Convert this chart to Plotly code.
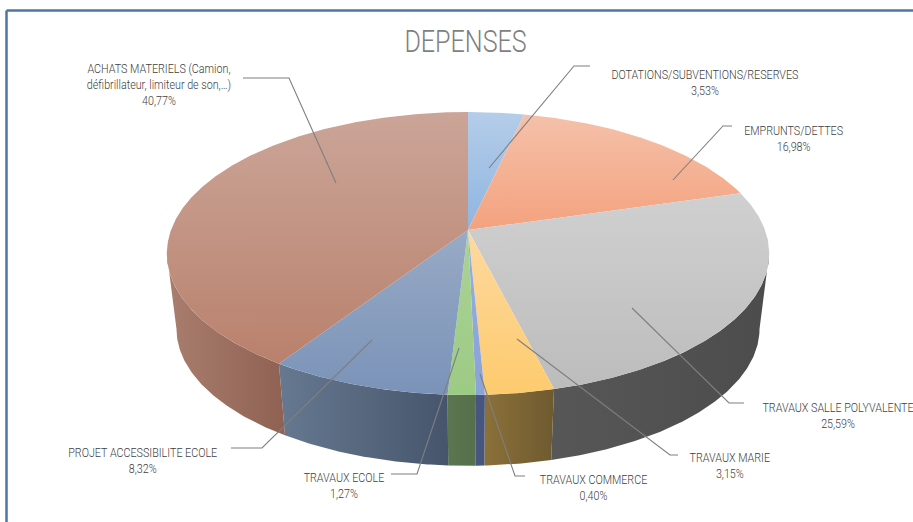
import numpy as np
import plotly.graph_objects as go

categories = ["DOTATIONS/SUBVENTIONS/RESERVES", "EMPRUNTS/DETTES", "TRAVAUX SALLE POLYVALENTE",
              "TRAVAUX MARIE", "TRAVAUX COMMERCE", "TRAVAUX ECOLE", "PROJET ACCESSIBILITE ECOLE",
              "ACHATS MATERIELS (Camion,<br>défibrillateur, limiteur de son,…)"]
values = [3.53, 16.98, 25.59, 3.15, 0.40, 1.27, 8.32, 40.77]
top_light = ["#b4cde9", "#f4c1aa", "#d0d0d0", "#fdd9a0", "#96addf", "#abd296", "#98aac5", "#cba598"]
top_dark = ["#8fb5e0", "#f4a27e", "#bcbcbc", "#fdcb6e", "#8aa3d8", "#9ccb84", "#7a93b8", "#b9816d"]
side_left = ["#7f9cc0", "#c98d6d", "#575757", "#8b7139", "#46567f", "#5a7650", "#667990", "#aa7e6f"]
side_right = ["#7f9cc0", "#c98d6d", "#4c4c4c", "#6f5a30", "#46567f", "#566f4c", "#46556c", "#8e6152"]

title = "DEPENSES"
label_xy = [(705, 82), (793, 138), (838, 415), (730, 465), (593, 487), (344, 485), (143, 460), (159, 85)]
leaders = [[(590, 66), (574, 66), (489, 168)], [(732, 126), (723, 126), (673, 180)],
           [(744, 403), (729, 403), (632, 308)], [(678, 455), (670, 455), (517, 339)],
           [(525, 476), (515, 476), (480, 374)], [(391, 474), (417, 474), (459, 348)],
           [(231, 448), (262, 448), (372, 340)], [(243, 78), (289, 78), (336, 183)]]

# pie projection (perspective view of a tilted cylinder, in page pixels)
CX, CY, RX, RY, P = 468, 230, 297, 137.6, 0.166
BOTTOM_SCALE, BOTTOM_DY = 0.968, 76


def rim(theta, bottom=False):
    u, v = np.sin(theta), -np.cos(theta)
    d = 1 - P * v
    s, dy = (BOTTOM_SCALE, BOTTOM_DY) if bottom else (1.0, 0.0)
    return CX + s * RX * u / d, CY + dy + s * RY * v / d


fractions = np.cumsum([0] + values) / sum(values)
angles = 2 * np.pi * fractions
vis_lo = np.arccos(-P)                # front-facing part of the wall starts here
vis_hi = 2 * np.pi - vis_lo

fig = go.Figure()

# walls
for i, c in enumerate(categories):
    a, b = max(angles[i], vis_lo), min(angles[i + 1], vis_hi)
    if b <= a:
        continue
    th = np.linspace(a, b, max(int((b - a) * 120), 4))
    xt, yt = rim(th)
    xb, yb = rim(th[::-1], bottom=True)
    xs, ys = np.r_[xt, xb, xt[0]], np.r_[yt, yb, yt[0]]
    fig.add_trace(go.Scatter(x=xs, y=ys, mode="lines", fill="toself", line=dict(width=0),
                             fillgradient=dict(type="horizontal", start=float(xs.min()), stop=float(xs.max()),
                                               colorscale=[[0, side_left[i]], [1, side_right[i]]]),
                             hoverinfo="skip", showlegend=False))

# top face
for i, c in enumerate(categories):
    th = np.linspace(angles[i], angles[i + 1], max(int((angles[i + 1] - angles[i]) * 120), 4))
    xr, yr = rim(th)
    xs, ys = np.r_[CX, xr, CX], np.r_[CY, yr, CY]
    fig.add_trace(go.Scatter(x=xs, y=ys, mode="lines", fill="toself", line=dict(width=0),
                             fillgradient=dict(type="vertical", start=float(ys.min()), stop=float(ys.max()),
                                               colorscale=[[0, top_light[i]], [1, top_dark[i]]]),
                             name=c, hoverinfo="skip", showlegend=False))

# leader lines
for pts in leaders:
    fig.add_trace(go.Scatter(x=[p[0] for p in pts], y=[p[1] for p in pts], mode="lines",
                             line=dict(color="#7f7f7f", width=1.1), hoverinfo="skip", showlegend=False))

# labels
FONT = "Roboto, sans-serif"
for c, v, (x, y) in zip(categories, values, label_xy):
    fig.add_annotation(x=x, y=y, xref="x", yref="y", text=f"{c}<br>{v:.2f}".replace(".", ",") + "%",
                       showarrow=False, align="center", xanchor="center", yanchor="middle",
                       font=dict(family=FONT, size=12.5, color="#404040", weight=300))
fig.add_annotation(x=465, y=41, xref="x", yref="y", text=title, showarrow=False, xanchor="center", yanchor="middle",
                   font=dict(family=FONT, size=31, color="#7f7f7f", weight=300))

# frame
for x0, y0, x1, y1 in [(6.5, 10.5, 913, 10.5), (6.5, 10.5, 6.5, 522)]:
    fig.add_shape(type="line", x0=x0, y0=y0, x1=x1, y1=y1, xref="x", yref="y", line=dict(color="#4f76a0", width=2.5))

fig.update_layout(width=913, height=522, margin=dict(l=0, r=0, t=0, b=0), plot_bgcolor="white", paper_bgcolor="white",
                  xaxis=dict(range=[0, 913], visible=False, fixedrange=True),
                  yaxis=dict(range=[522, 0], visible=False, fixedrange=True))

# no page margin; the reference's type is condensed, and no narrow face is installed
post = """
document.body.style.margin = '0';
document.body.style.overflow = 'hidden';
document.querySelectorAll('text.annotation-text').forEach(function (t) {
  var b = t.getBBox(), cx = b.x + b.width / 2;
  var k = t.textContent === 'DEPENSES' ? 0.81 : 0.86;
  t.setAttribute('transform', 'translate(' + cx + ',0) scale(' + k + ',1) translate(' + (-cx) + ',0)');
});
"""
fig.write_html("out.html", config={"displayModeBar": False}, post_script=post)
